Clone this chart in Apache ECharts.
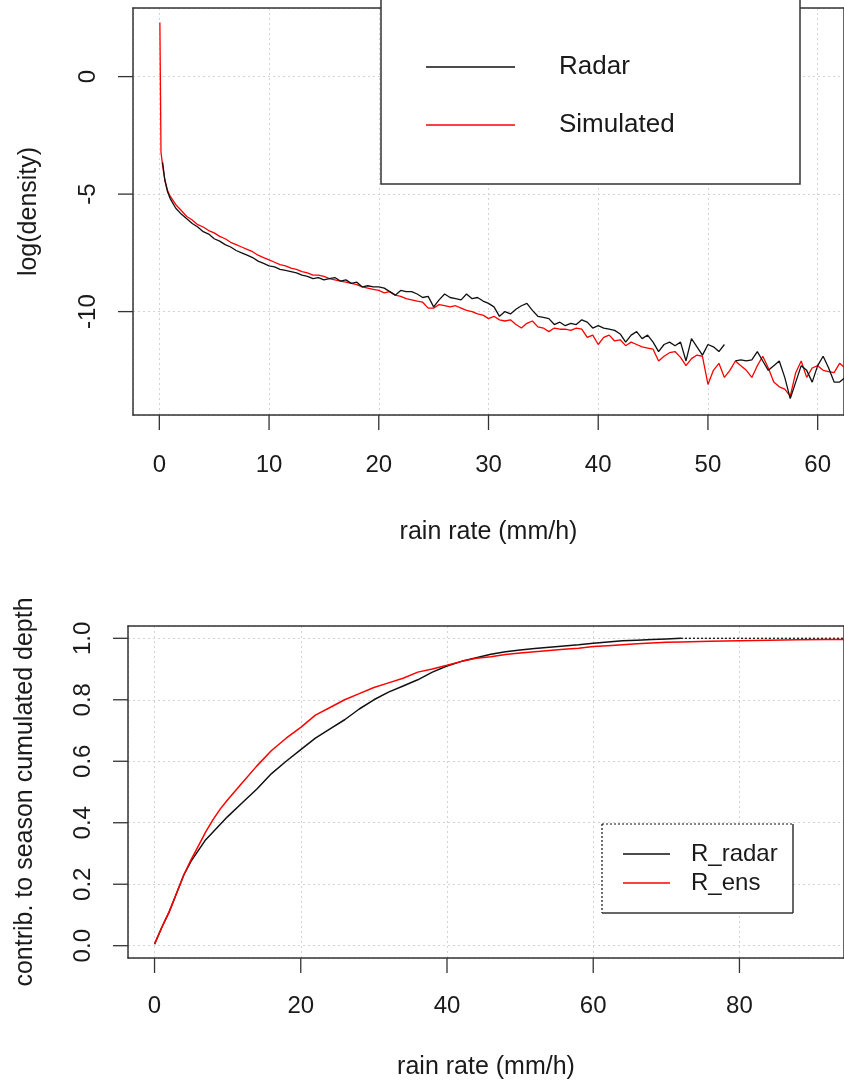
<!DOCTYPE html>
<html><head><meta charset="utf-8">
<script src="https://cdn.jsdelivr.net/npm/echarts@6/dist/echarts.min.js"></script>
<style>html,body{margin:0;padding:0;background:#fff}#c{width:844px;height:1081px}</style>
</head><body><div id="c"></div>
<script>
// ---------- top panel: log(density) vs rain rate ----------
const topX = [0.05,0.15,0.3,0.5,0.75,
 1,1.5,2,2.5,3,3.5,4,4.5,5,5.5,6,6.5,7,7.5,8,8.5,9,9.5,10,10.5,11,11.5,12,12.5,13,13.5,14,14.5,15,15.5,16,16.5,17,17.5,18,18.5,19,19.5,
 20,20.5,21,21.5,22,22.5,23,23.5,24,24.5,25,25.5,26,26.5,27,27.5,28,28.5,29,29.5,30,30.5,31,31.5,32,32.5,33,33.5,34,34.5,35,35.5,36,36.5,37,37.5,38,38.5,39,39.5,
 40,40.5,41,41.5,42,42.5,43,43.5,44,44.5,45,45.5,46,46.5,47,47.5,48,48.5,49,49.5,50,50.5,51,51.5,52,52.5,53,53.5,54,54.5,55,55.5,56,56.5,57,57.5,58,58.5,59,59.5,
 60,60.5,61,61.5,62,62.5,63];
const radarLog = [null,null,-3.65,-4.4,-4.9,
 -5.2,-5.6,-5.85,-6.05,-6.25,-6.4,-6.6,-6.7,-6.9,-7.0,-7.15,-7.25,-7.4,-7.5,-7.6,-7.7,-7.85,-7.95,-8.05,-8.1,-8.2,-8.25,-8.3,-8.35,-8.45,-8.5,-8.6,-8.55,-8.65,-8.6,-8.55,-8.7,-8.65,-8.8,-8.75,-8.95,-8.9,-8.95,
 -8.95,-9.0,-9.15,-9.3,-9.1,-9.15,-9.15,-9.25,-9.4,-9.35,-9.8,-9.5,-9.25,-9.4,-9.45,-9.5,-9.25,-9.45,-9.4,-9.55,-9.65,-9.8,-10.2,-10.0,-10.1,-9.9,-9.75,-9.65,-9.95,-10.2,-10.25,-10.3,-10.55,-10.45,-10.6,-10.5,-10.55,-10.35,-10.45,-10.7,
 -10.6,-10.7,-10.75,-10.8,-10.95,-11.3,-11.0,-10.85,-11.15,-11.0,-11.3,-11.7,-11.4,-11.3,-11.45,-11.3,-12.1,-11.15,-11.5,-11.85,-11.4,-11.5,-11.7,-11.4,null,-12.1,-12.05,-12.1,-12.05,-11.7,-12.1,-12.5,-12.3,-12.1,-12.8,-13.7,-13.0,-12.3,-12.5,-13.0,
 -12.3,-11.9,-12.4,-13.0,-13.0,-12.8,-12.9];
const simLog = [2.3,-3.2,-3.8,-4.4,-4.85,
 -5.1,-5.45,-5.7,-5.95,-6.1,-6.3,-6.4,-6.55,-6.65,-6.8,-6.9,-7.05,-7.15,-7.25,-7.35,-7.45,-7.6,-7.7,-7.8,-7.9,-8.0,-8.05,-8.15,-8.2,-8.3,-8.35,-8.45,-8.45,-8.5,-8.6,-8.65,-8.7,-8.75,-8.8,-8.85,-8.95,-9.0,-9.05,
 -9.1,-9.2,-9.15,-9.3,-9.35,-9.45,-9.5,-9.55,-9.6,-9.85,-9.85,-9.7,-9.75,-9.8,-9.75,-9.85,-9.95,-10.0,-10.1,-10.15,-10.3,-10.2,-10.35,-10.4,-10.35,-10.55,-10.7,-10.5,-10.4,-10.65,-10.7,-10.85,-10.7,-10.75,-10.75,-10.8,-10.7,-10.75,-11.1,-11.0,
 -11.4,-11.1,-11.0,-11.25,-11.2,-11.45,-11.3,-11.4,-11.5,-11.55,-11.6,-12.1,-11.9,-11.75,-11.7,-11.95,-12.3,-12.0,-11.85,-11.9,-13.1,-12.5,-12.2,-12.8,-12.5,-12.1,-12.3,-12.5,-12.8,-12.3,-11.9,-12.4,-13.0,-13.2,-13.3,-13.6,-12.6,-12.1,-12.8,-12.4,
 -12.3,-12.5,-12.55,-12.6,-12.2,-12.4,-12.6];
const topXTicks = [0,10,20,30,40,50,60];
const topYTicks = [-10,-5,0];

// ---------- bottom panel: cumulative contribution ----------
const botX = [0,1,2,3,4,5,6,7,8,9,10,12,14,16,18,20,22,24,26,28,30,32,34,36,38,40,42,44,46,48,50,52,54,56,58,60,62,64,66,68,70,72,76,80,84,88,92,95];
const rRadar = [0.005,0.06,0.11,0.17,0.23,0.275,0.31,0.345,0.37,0.395,0.42,0.465,0.51,0.56,0.6,0.638,0.675,0.705,0.735,0.77,0.8,0.825,0.845,0.865,0.89,0.91,0.925,0.937,0.948,0.956,0.962,0.967,0.971,0.975,0.979,0.984,0.988,0.992,0.994,0.996,0.998,1.0,null,null,null,null,null,null];
const rEns = [0.005,0.06,0.11,0.17,0.23,0.28,0.325,0.37,0.41,0.445,0.475,0.53,0.585,0.635,0.675,0.71,0.75,0.775,0.8,0.82,0.84,0.855,0.87,0.89,0.9,0.912,0.925,0.935,0.94,0.947,0.952,0.956,0.96,0.964,0.968,0.973,0.976,0.979,0.982,0.985,0.987,0.988,0.99,0.992,0.994,0.995,0.996,0.996];
const radarTailX = [72, 95];
const radarTailY = [1.0, 1.0];
const botXTicks = [0,20,40,60,80];
const botYTicks = [0,0.2,0.4,0.6,0.8,1.0];

// axis ranges (R-style 4% padding)
const topXRange = [-2.4, 62.4], topYRange = [-14.4, 2.92];
const botXRange = [-3.63, 94.3], botYRange = [-0.04, 1.04];

function pairs(xs, ys){ return xs.map((x,i)=>[x, ys[i]]); }

const FONT = '"Liberation Sans", Arial, sans-serif';
const TXT = '#1a1a1a';
const FRAME = '#333';
const TICKLEN = 15;
const gridLine = {show:true, lineStyle:{color:'#d3d3d3', type:[2,3], width:1}};
const axLine = {show:true, onZero:false, lineStyle:{color:FRAME, width:1.5}};
function xAx(gi, rng, ticks, split, lblMargin, nameGap){
  return {type:'value', gridIndex:gi, min:rng[0], max:rng[1], splitNumber:split, position:'bottom',
    axisLine:axLine,
    axisTick:{show:false},
    axisLabel:{customValues:ticks, margin:lblMargin, fontSize:24, color:TXT, fontFamily:FONT},
    splitLine:gridLine,
    name:'rain rate (mm/h)', nameLocation:'middle', nameGap:nameGap,
    nameTextStyle:{fontSize:25, color:TXT, fontFamily:FONT}};
}
function yAx(gi, rng, ticks, split, name, fmt, nameGap){
  return {type:'value', gridIndex:gi, min:rng[0], max:rng[1], splitNumber:split, position:'left',
    axisLine:axLine,
    axisTick:{show:false},
    axisLabel:{customValues:ticks, rotate:90, margin:33, fontSize:24, color:TXT, fontFamily:FONT, formatter:fmt},
    splitLine:gridLine,
    name:name, nameLocation:'middle', nameGap:nameGap, nameRotate:90,
    nameTextStyle:{fontSize:25, color:TXT, fontFamily:FONT}};
}
function frameX(gi, rng){
  return {type:'value', gridIndex:gi, min:rng[0], max:rng[1], position:'top',
    axisLine:axLine, axisTick:{show:false}, axisLabel:{show:false}, splitLine:{show:false}};
}
function frameY(gi, rng){
  return {type:'value', gridIndex:gi, min:rng[0], max:rng[1], position:'right',
    axisLine:axLine, axisTick:{show:false}, axisLabel:{show:false}, splitLine:{show:false}};
}

const legendBoxes = [
  {type:'rect', z:100, shape:{x:381, y:-20, width:419, height:204}, style:{fill:'#fff', stroke:FRAME, lineWidth:1.5}},
  {type:'rect', z:100, shape:{x:602, y:824, width:191, height:89}, style:{fill:'#fff'}},
  {type:'line', z:101, shape:{x1:602, y1:824, x2:793, y2:824}, style:{stroke:'#111', lineWidth:1.2, lineDash:[2,2]}},
  {type:'line', z:101, shape:{x1:602, y1:824, x2:602, y2:913}, style:{stroke:'#111', lineWidth:1.2, lineDash:[2,2]}},
  {type:'line', z:101, shape:{x1:793, y1:824, x2:793, y2:913}, style:{stroke:FRAME, lineWidth:1.5}},
  {type:'line', z:101, shape:{x1:602, y1:913, x2:793, y2:913}, style:{stroke:FRAME, lineWidth:1.5}}
];

const chart = echarts.init(document.getElementById('c'), null, {renderer:'canvas'});
chart.setOption({
  backgroundColor:'#fff',
  animation:false,
  grid:[
    {left:133, top:8, width:718, height:407, show:false},
    {left:128, top:626, width:729, height:333, show:false}
  ],
  xAxis:[ xAx(0, topXRange, topXTicks, 5, 38, 105), xAx(1, botXRange, botXTicks, 5, 36, 97),
          frameX(0, topXRange), frameX(1, botXRange) ],
  yAxis:[
    yAx(0, topYRange, topYTicks, 3, 'log(density)', v=>String(v), 91),
    yAx(1, botYRange, botYTicks, 5, 'contrib. to season cumulated depth', v=>Number(v).toFixed(1), 90),
    frameY(0, topYRange), frameY(1, botYRange)
  ],
  legend:[
    {data:['Radar','Simulated'], orient:'vertical', left:426, top:52, padding:0, icon:'rect', itemWidth:89, itemHeight:1.5, itemGap:28,
     selectedMode:false, z:200,
     textStyle:{fontSize:26, lineHeight:26, color:TXT, fontFamily:FONT, padding:[4,0,0,39]}},
    {data:['R_radar','R_ens'], orient:'vertical', left:623, top:841, padding:0, icon:'rect', itemWidth:47, itemHeight:1.5, itemGap:3,
     selectedMode:false, z:200,
     textStyle:{fontSize:24, lineHeight:24, color:TXT, fontFamily:FONT, padding:[2,0,0,16]}}
  ],
  graphic: legendBoxes,
  series:[
    {name:'Radar', type:'line', xAxisIndex:0, yAxisIndex:0, data:pairs(topX, radarLog), symbol:'none', connectNulls:false, clip:true,
     lineStyle:{color:'#111', width:1.3}, itemStyle:{color:'#111'}, z:3},
    {name:'Simulated', type:'line', xAxisIndex:0, yAxisIndex:0, data:pairs(topX, simLog), symbol:'none', connectNulls:false, clip:true,
     lineStyle:{color:'#ff0000', width:1.3}, itemStyle:{color:'#ff0000'}, z:2},
    {name:'R_radar', type:'line', xAxisIndex:1, yAxisIndex:1, data:pairs(botX, rRadar), symbol:'none', clip:true,
     lineStyle:{color:'#111', width:1.5}, itemStyle:{color:'#111'}, z:2},
    {name:'R_radar_tail', type:'line', xAxisIndex:1, yAxisIndex:1, data:pairs(radarTailX, radarTailY), symbol:'none', clip:true,
     lineStyle:{color:'#111', width:1.3, type:[2,2]}, z:2},
    {name:'R_ens', type:'line', xAxisIndex:1, yAxisIndex:1, data:pairs(botX, rEns), symbol:'none', clip:true,
     lineStyle:{color:'#ff0000', width:1.5}, itemStyle:{color:'#ff0000'}, z:3}
  ]
});

// outward tick marks, positioned through the axes' own scales (single-axis conversion)
function toPx(gi, x, y){
  let px = chart.convertToPixel({xAxisIndex:gi}, x);
  let py = chart.convertToPixel({yAxisIndex:gi}, y);
  if (typeof px !== 'number' || typeof py !== 'number' || isNaN(px) || isNaN(py)) {
    const p = chart.convertToPixel({gridIndex:gi}, [x, y]);
    px = p[0]; py = p[1];
  }
  return [px, py];
}
function tickMarks(gi, ticks, dir, xRng, yRng){
  return ticks.map(function(v){
    const p = dir === 'x' ? toPx(gi, v, yRng[0]) : toPx(gi, xRng[0], v);
    const shape = dir === 'x'
      ? {x1:p[0], y1:p[1], x2:p[0], y2:p[1]+TICKLEN}
      : {x1:p[0], y1:p[1], x2:p[0]-TICKLEN, y2:p[1]};
    return {type:'line', z:120, shape:shape, style:{stroke:FRAME, lineWidth:1.3}};
  });
}
const tickGraphics = []
  .concat(tickMarks(0, topXTicks, 'x', topXRange, topYRange))
  .concat(tickMarks(0, topYTicks, 'y', topXRange, topYRange))
  .concat(tickMarks(1, botXTicks, 'x', botXRange, botYRange))
  .concat(tickMarks(1, botYTicks, 'y', botXRange, botYRange));
chart.setOption({graphic: legendBoxes.concat(tickGraphics)});
</script></body></html>
